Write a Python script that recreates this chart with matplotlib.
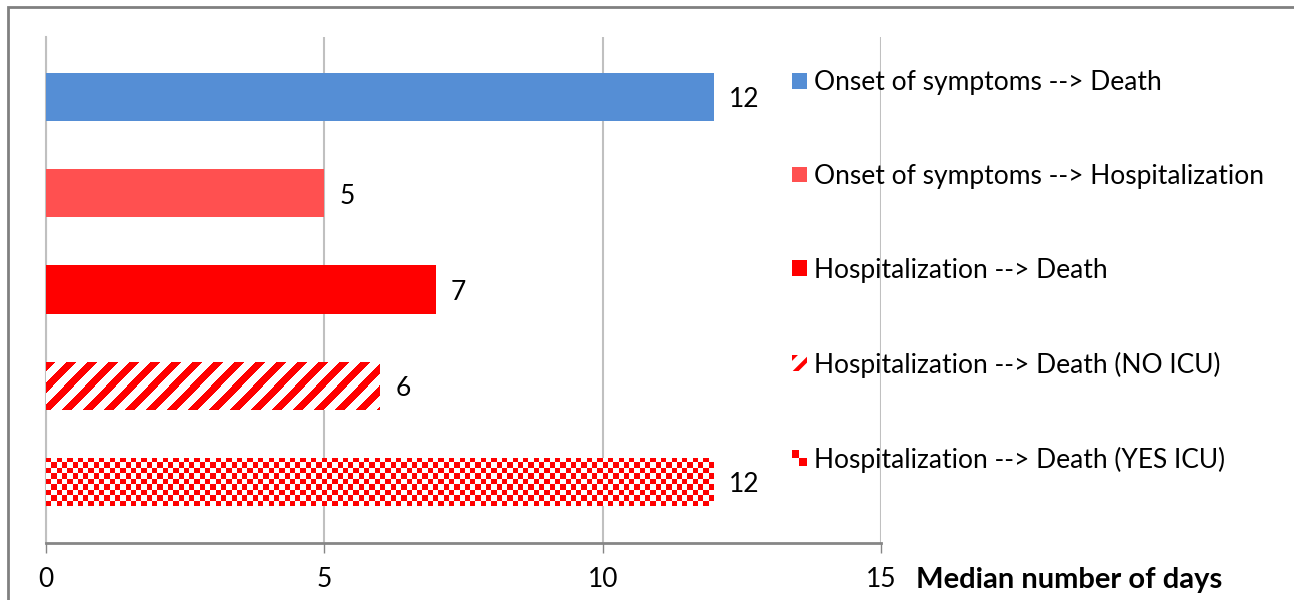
import numpy as np
import matplotlib.pyplot as plt
from matplotlib.patches import Rectangle, Patch
from matplotlib.legend_handler import HandlerBase
from matplotlib.colors import ListedColormap

categories = [
    'Onset of symptoms --> Death',
    'Onset of symptoms --> Hospitalization',
    'Hospitalization --> Death',
    'Hospitalization --> Death (NO ICU)',
    'Hospitalization --> Death (YES ICU)',
]
median_days = [12, 5, 7, 6, 12]
bar_colors = ['#558ED5', '#FF5050', '#FF0000', '#FF0000', '#FF0000']
xticks = [0, 5, 10, 15]

plt.rcParams['font.family'] = ['Lato', 'DejaVu Sans']
plt.rcParams['hatch.linewidth'] = 3.0
plt.rcParams['hatch.color'] = '#FF0000'
FS = 19

fig = plt.figure(figsize=(12.94, 6.0), dpi=100)
ax = fig.add_axes([46 / 1294, 1 - 543 / 600, 835 / 1294, 506 / 600])

red_white = ListedColormap(['white', '#FF0000'])
bars = []
for i, (v, c) in enumerate(zip(median_days, bar_colors)):
    face = 'white' if i >= 3 else c
    b = ax.barh(i, v, height=0.5, color=face, linewidth=0, zorder=3)
    bars.append(b[0])


def fill_pattern(rect, pattern):
    x0, y0 = rect.get_x(), rect.get_y()
    w, h = rect.get_width(), rect.get_height()
    im = ax.imshow(pattern, cmap=red_white, vmin=0, vmax=1,
                   extent=[x0, x0 + w, y0 + h, y0],
                   aspect='auto', interpolation='nearest', zorder=4)
    im.set_clip_path(rect)


# diagonal stripes for NO ICU bar (pixel grid ~ bar size)
rows, cols = 48, 334
rr, cc = np.meshgrid(np.arange(rows), np.arange(cols), indexing='ij')
stripes = (((rr + cc) % 21) < 10).astype(float)
fill_pattern(bars[3], stripes)

# checkerboard for YES ICU bar, red in the top-left corner
checker = ((np.add.outer(np.arange(9), np.arange(126)) + 1) % 2).astype(float)
fill_pattern(bars[4], checker)

for i, v in enumerate(median_days):
    ax.annotate(str(v), (v, i), xytext=(11, -2), textcoords='offset points',
                ha='left', va='center', fontsize=FS)

ax.set_xlim(0, 15)
ax.set_ylim(len(categories) - 1 + 0.635, -0.625)
ax.set_xticks(xticks)
ax.set_yticks([])
ax.tick_params(axis='x', length=7, width=1, color='#868686', pad=10, labelsize=FS)
ax.grid(axis='x', color='#C0C0C0', linewidth=1.5, zorder=0)
for s in ['top', 'right']:
    ax.spines[s].set_visible(False)
ax.spines['left'].set_color('#C0C0C0')
ax.spines['left'].set_linewidth(1.5)
ax.spines['bottom'].set_color('#868686')
ax.spines['bottom'].set_linewidth(2)

ax.set_xlabel('Median number of days', fontsize=21, fontweight='bold', ha='left', va='center')
ax.xaxis.set_label_coords(1.042, -0.073)


class CheckerHandler(HandlerBase):
    def create_artists(self, legend, orig_handle, xdescent, ydescent, width, height, fontsize, trans):
        arts = [Rectangle((-xdescent, -ydescent), width, height, facecolor='white',
                          edgecolor='none', transform=trans)]
        n = 2
        sw, sh = width / n, height / n
        for r in range(n):
            for c in range(n):
                if (r + c) % 2 == 1:
                    arts.append(Rectangle((-xdescent + c * sw, -ydescent + r * sh), sw, sh,
                                          facecolor='#FF0000', edgecolor='none', transform=trans))
        return arts


handles = [Patch(facecolor=bar_colors[0]), Patch(facecolor=bar_colors[1]),
           Patch(facecolor=bar_colors[2]),
           Patch(facecolor='white', edgecolor='#FF0000', hatch='//', linewidth=0),
           Patch(facecolor='#FF0000')]
fig.legend(handles, categories, loc='upper left', bbox_to_anchor=(792 / 1294, 1 - 70 / 600),
           frameon=False, fontsize=FS, handlelength=0.55, handleheight=0.55,
           handletextpad=0.3, labelspacing=2.61, borderaxespad=0, borderpad=0,
           handler_map={handles[4]: CheckerHandler()})

fig.patches.append(Rectangle((8 / 1294, -0.1), 1.2, 1 - 7 / 600 + 0.1, transform=fig.transFigure,
                             facecolor='none', edgecolor='#808080', linewidth=2))

fig.savefig('out.png', dpi=100)
